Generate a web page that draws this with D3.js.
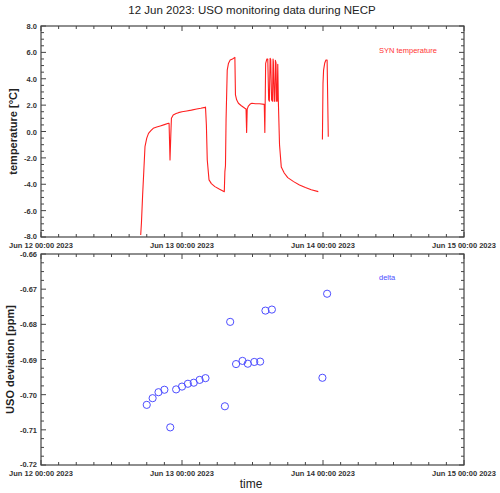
<!DOCTYPE html>
<html><head><meta charset="utf-8">
<script src="https://cdn.jsdelivr.net/npm/d3@7"></script>
<style>
body{margin:0;background:#fff;}
svg{display:block;font-family:"Liberation Sans",Arial,sans-serif;}
</style></head>
<body><svg id="c" width="500" height="493"></svg>
<script>
// ---- data ----
const title = "12 Jun 2023: USO monitoring data during NECP";
const xStart = "2023-06-12T00:00:00";
const xEnd = "2023-06-15T00:00:00";
const xTickLabels = ["Jun 12 00:00 2023","Jun 13 00:00 2023","Jun 14 00:00 2023","Jun 15 00:00 2023"];
const tempTicks = [-8,-6,-4,-2,0,2,4,6,8];
const deltaTicks = [-0.72,-0.71,-0.70,-0.69,-0.68,-0.67,-0.66];

// temperature: hours since Jun 12 00:00, value in °C (null = gap)
const tempHours = [16.97,17.1,17.3,17.5,17.7,18.0,18.3,18.7,19.1,19.7,20.3,21.0,21.7,21.8,21.96,22.1,22.2,22.5,23.0,23.4,24.0,24.8,25.6,26.5,27.2,27.9,28.0,28.15,28.3,28.6,29.0,29.6,30.4,31.2,31.3,31.4,31.5,31.7,31.9,32.2,32.6,33.0,33.1,33.3,33.6,34.1,34.7,34.9,35.0,35.1,35.3,35.6,35.9,36.5,37.2,38.0,38.1,38.24,38.45,38.6,38.75,38.87,39.0,39.1,39.25,39.4,39.5,39.55,39.7,39.8,39.9,40.0,40.1,40.2,40.3,40.4,40.6,40.9,41.4,42.0,43.0,44.0,45.0,46.0,47.2,47.5,47.9,48.0,48.1,48.3,48.5,48.7,48.8,48.9];
const tempValues = [-7.85,-6.9,-4.8,-3.0,-1.15,-0.5,-0.14,0.06,0.24,0.34,0.42,0.52,0.62,0.62,-2.16,-0.2,1.0,1.25,1.36,1.43,1.5,1.56,1.62,1.7,1.76,1.83,1.85,0.5,-2.16,-3.67,-3.95,-4.18,-4.38,-4.56,-3.04,-2.6,0.87,4.66,5.15,5.42,5.5,5.62,2.77,2.4,2.14,1.95,1.76,1.7,-0.08,1.7,1.93,2.08,2.14,2.1,2.1,2.06,-0.08,5.17,5.5,5.5,2.4,2.3,5.55,5.45,2.4,2.3,5.5,5.3,2.3,2.3,5.4,5.2,2.3,2.3,5.1,2.3,-1.0,-2.7,-3.15,-3.5,-3.8,-4.05,-4.25,-4.42,-4.56,null,-0.6,3.65,4.66,5.2,5.42,5.42,2.5,-0.4];

// delta: hours since Jun 12 00:00, value in ppm
const deltaHours = [18.0,19.0,20.0,21.0,22.0,23.0,24.0,25.0,26.0,27.0,28.0,31.3,32.2,33.2,34.3,35.2,36.3,37.3,38.2,39.3,47.9,48.7];
const deltaValues = [-0.7029,-0.7010,-0.6993,-0.6986,-0.7093,-0.6985,-0.6977,-0.6969,-0.6966,-0.6958,-0.6953,-0.7033,-0.6793,-0.6913,-0.6904,-0.6912,-0.6907,-0.6906,-0.6761,-0.6758,-0.6952,-0.6713];

// ---- drawing ----
const svg = d3.select("#c");
const t0 = new Date(xStart), t1 = new Date(xEnd);
const toDate = h => new Date(t0.getTime() + h*3600e3);
const X0 = 41, X1 = 464;
const x = d3.scaleTime().domain([t0,t1]).range([X0,X1]);
const axisCol = "#444", labCol = "#333";

svg.append("text").attr("x",252).attr("y",14).attr("text-anchor","middle")
  .attr("font-size",11.5).attr("fill","#222").text(title);

function panel(y0, y1, ymin, ymax, yticks, minorStep, fmt, ylabel, yLabX) {
  const y = d3.scaleLinear().domain([ymin,ymax]).range([y1,y0]);
  const g = svg.append("g");
  const xMinor = d3.timeHour.every(3).range(t0, new Date(t1.getTime()+1));
  xMinor.forEach(d => {
    const isDay = d.getHours()===0;
    const L = isDay ? 5 : 3;
    g.append("line").attr("x1",x(d)).attr("x2",x(d)).attr("y1",y1).attr("y2",y1-L).attr("stroke",axisCol);
    g.append("line").attr("x1",x(d)).attr("x2",x(d)).attr("y1",y0).attr("y2",y0+L).attr("stroke",axisCol);
  });
  const nMinor = Math.round((ymax-ymin)/minorStep);
  for (let i=0;i<=nMinor;i++){
    const v = ymin + i*minorStep;
    const isMaj = yticks.some(t => Math.abs(t-v) < minorStep/10);
    const L = isMaj ? 5 : 3;
    g.append("line").attr("x1",X0).attr("x2",X0+L).attr("y1",y(v)).attr("y2",y(v)).attr("stroke",axisCol);
    g.append("line").attr("x1",X1).attr("x2",X1-L).attr("y1",y(v)).attr("y2",y(v)).attr("stroke",axisCol);
  }
  g.append("rect").attr("x",X0).attr("y",y0).attr("width",X1-X0).attr("height",y1-y0)
    .attr("fill","none").attr("stroke",axisCol).attr("stroke-width",1.2);
  yticks.forEach((v,i) => {
    const dy = i===0 ? 1.5 : 3;
    g.append("text").attr("x",X0-4).attr("y",y(v)+dy).attr("text-anchor","end")
      .attr("font-size",7.5).attr("font-weight","bold").attr("fill",labCol).text(fmt(v));
  });
  const dayTicks = d3.timeDay.range(t0, new Date(t1.getTime()+1));
  dayTicks.forEach((d,i) => {
    g.append("text").attr("x",x(d)).attr("y",y1+10.5).attr("text-anchor","middle")
      .attr("font-size",7.5).attr("font-weight","bold").attr("fill",labCol).text(xTickLabels[i]);
  });
  const cy = (y0+y1)/2;
  g.append("text").attr("transform",`translate(${yLabX},${cy}) rotate(-90)`).attr("text-anchor","middle")
    .attr("font-size",11).attr("font-weight","bold").attr("fill","#222").text(ylabel);
  return y;
}

const yT = panel(26, 237, -8, 8, tempTicks, 0.5, d => d.toFixed(1), "temperature [°C]", 17);
const yD = panel(254, 465, -0.72, -0.66, deltaTicks, 0.0025, d => d.toFixed(2), "USO deviation [ppm]", 14);

const tempData = tempHours.map((h,i)=>({t:toDate(h), v:tempValues[i]}));
const line = d3.line().defined(d=>d.v!==null).x(d=>x(d.t)).y(d=>yT(d.v));
svg.append("path").datum(tempData).attr("d",line).attr("fill","none")
  .attr("stroke","#ff2020").attr("stroke-width",1.1).attr("stroke-linejoin","round");

svg.append("text").attr("x",379).attr("y",53).attr("font-size",7.5).attr("fill","#ff3333").text("SYN temperature");

const deltaData = deltaHours.map((h,i)=>({t:toDate(h), v:deltaValues[i]}));
svg.append("g").selectAll("circle").data(deltaData).join("circle")
  .attr("cx",d=>x(d.t)).attr("cy",d=>yD(d.v)).attr("r",3.6)
  .attr("fill","none").attr("stroke","#4d4dff").attr("stroke-width",1);

svg.append("text").attr("x",379).attr("y",280).attr("font-size",7.5).attr("fill","#4d4dff").text("delta");

svg.append("text").attr("x",251).attr("y",488).attr("text-anchor","middle")
  .attr("font-size",12).attr("fill","#222").text("time");
</script></body></html>
